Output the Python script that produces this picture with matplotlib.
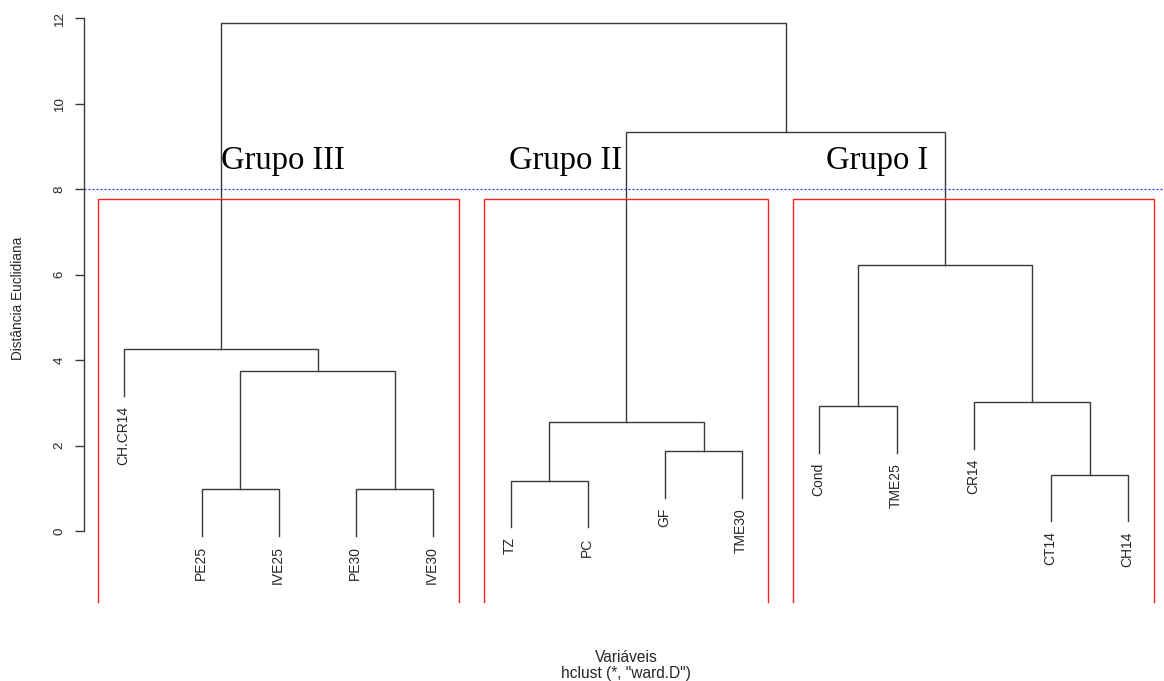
import matplotlib
matplotlib.use("Agg")
import matplotlib.pyplot as plt
import numpy as np

# Leaves in dendrogram order
labels = ["CH.CR14", "PE25", "IVE25", "PE30", "IVE30", "TZ", "PC", "GF",
          "TME30", "Cond", "TME25", "CR14", "CT14", "CH14"]

# hclust-style merge table (negative = leaf index, positive = earlier merge)
merge_left = [-2, -4, -6, -13, -8, 3, -10, -12, 1, -1, 7, 6, 10]
merge_right = [-3, -5, -7, -14, -9, 5, -11, 4, 2, 9, 8, 11, 12]
merge_height = [0.98, 0.98, 1.18, 1.32, 1.87, 2.54, 2.92, 3.02, 3.75, 4.25,
                6.22, 9.33, 11.88]

n_groups = 3
cut_height = 8
group_names = ["Grupo III", "Grupo II", "Grupo I"]
yticks = [0, 2, 4, 6, 8, 10, 12]

# text anchors for the group names (data coords)
group_label_x = [3.05, 6.71, 10.75]
group_label_y = 8.48

plt.rcParams["font.family"] = ["Liberation Sans", "DejaVu Sans"]

W, H = 1164, 681
fig = plt.figure(figsize=(W / 100, H / 100), dpi=100)

n = len(labels)
xlim = (1 - 0.04 * (n - 1), n + 0.04 * (n - 1))
ylim = (-1.654, 12.40)
left_px, right_px = 84.3, 1168.5
bottom_px, top_px = 601.7, 1.0
ax = fig.add_axes([left_px / W, (H - bottom_px) / H,
                   (right_px - left_px) / W, (bottom_px - top_px) / H])
ax.set_xlim(*xlim)
ax.set_ylim(*ylim)

line_col = "#3a3a3a"
text_col = "#262626"
hang = 0.1 * (max(merge_height) - min(merge_height))

node_x = {}
node_h = {}


def child_info(c, parent_h):
    if c < 0:
        return float(-c), parent_h - hang, True
    return node_x[c], node_h[c], False


for i, (a, b, h) in enumerate(zip(merge_left, merge_right, merge_height), start=1):
    xa, ya, la = child_info(a, h)
    xb, yb, lb = child_info(b, h)
    node_x[i] = (xa + xb) / 2
    node_h[i] = h
    ax.plot([xa, xa, xb, xb], [ya, h, h, yb], color=line_col, lw=1.0,
            solid_joinstyle="miter", clip_on=False)
    for c, xc, yc, leaf in ((a, xa, ya, la), (b, xb, yb, lb)):
        if leaf:
            ax.annotate(labels[-c - 1], (xc, yc), xytext=(-0.8, -7.3),
                        textcoords="offset points", rotation=90,
                        ha="center", va="top", fontsize=10, color=text_col)


def leaves_of(node):
    if node < 0:
        return [-node]
    return leaves_of(merge_left[node - 1]) + leaves_of(merge_right[node - 1])


# clusters for k groups: subtrees left after removing the top (k-1) merges
nm = len(merge_height)
top_nodes = list(range(nm - n_groups + 2, nm + 1))
clusters = []
for node in top_nodes:
    for c in (merge_left[node - 1], merge_right[node - 1]):
        if c < 0 or c not in top_nodes:
            clusters.append(leaves_of(c))
clusters.sort(key=min)
sorted_h = sorted(merge_height)
rect_top = (sorted_h[-(n_groups - 1)] + sorted_h[-n_groups]) / 2
for members in clusters:
    x0 = min(members) - 0.34
    x1 = max(members) + 0.33
    ax.plot([x0, x0, x1, x1], [ylim[0], rect_top, rect_top, ylim[0]],
            color="#ff2020", lw=1.0, solid_joinstyle="miter", clip_on=False)

ax.axhline(cut_height, color="#2a2aff", lw=0.9, linestyle=(0, (1.6, 1.6)))

for name, gx in zip(group_names, group_label_x):
    ax.text(gx, group_label_y, name, ha="center", va="baseline",
            fontsize=23.5, family="Liberation Serif", color="black")

for s in ("top", "right", "bottom"):
    ax.spines[s].set_visible(False)
ax.spines["left"].set_bounds(yticks[0], yticks[-1])
ax.spines["left"].set_color(line_col)
ax.spines["left"].set_linewidth(1.0)
ax.set_xticks([])
ax.set_yticks(yticks)
ax.set_yticklabels([str(t) for t in yticks])
ax.tick_params(axis="y", length=6.5, width=1.0, color=line_col, pad=7,
               labelrotation=90, labelsize=9.5, labelcolor=text_col)
for lab in ax.get_yticklabels():
    lab.set_va("center")

fig.text(18.5 / W, 1 - 298 / H, "Distância Euclidiana", rotation=90,
         ha="center", va="center", fontsize=9.8, color=text_col)
fig.text(626.4 / W, 1 - 657 / H, "Variáveis", ha="center", va="center",
         fontsize=11.2, color=text_col)
fig.text(626.4 / W, 1 - 673.5 / H, 'hclust (*, "ward.D")', ha="center",
         va="center", fontsize=11.2, color=text_col)

fig.savefig("out.png", dpi=100)
